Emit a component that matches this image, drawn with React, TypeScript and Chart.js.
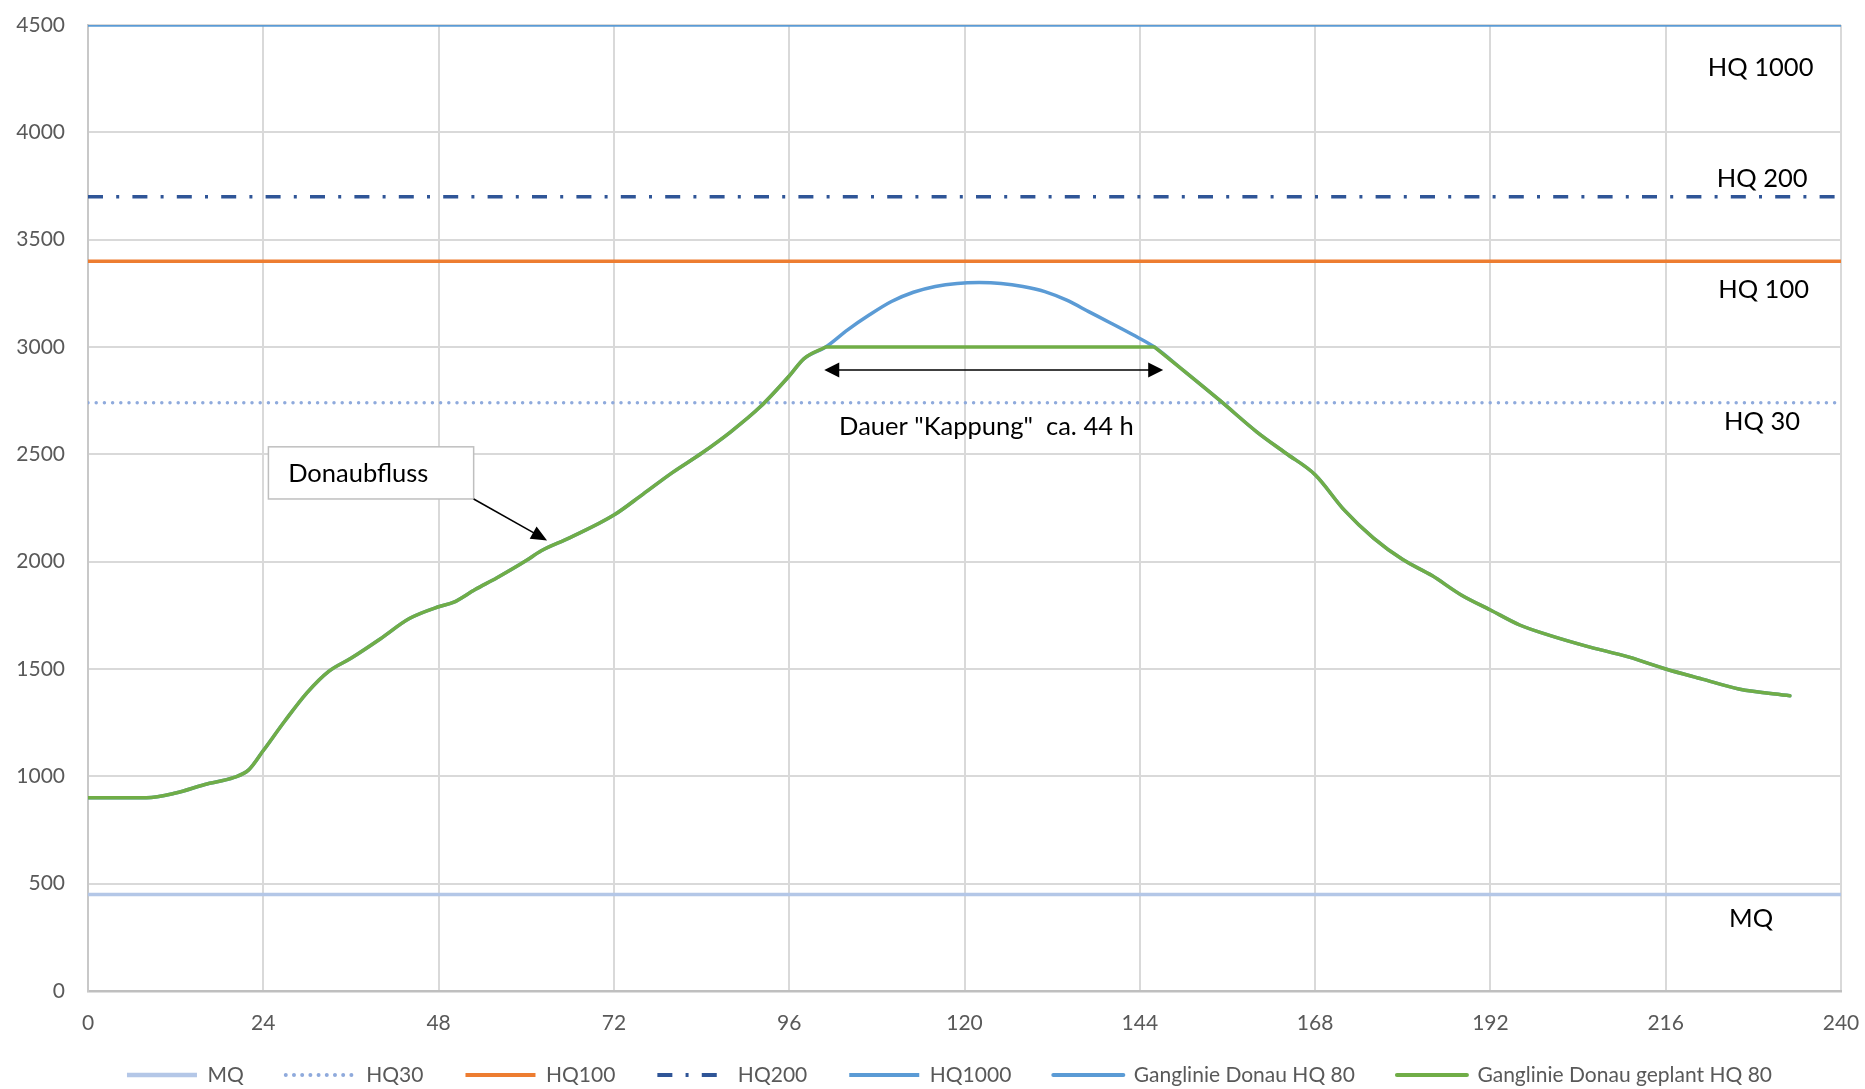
import React, { useEffect, useRef } from "react";
import { Chart, registerables } from "chart.js";

Chart.register(...registerables);

// ---------- data ----------
const X_MIN = 0;
const X_MAX = 240;
const X_STEP = 24;
const Y_MIN = 0;
const Y_MAX = 4500;
const Y_STEP = 500;

const seriesNames = [
  "MQ",
  "HQ30",
  "HQ100",
  "HQ200",
  "HQ1000",
  "Ganglinie Donau HQ 80",
  "Ganglinie Donau geplant HQ 80",
];

// reference discharge levels (m³/s)
const levelValues = [450, 2740, 3400, 3700, 4500];

// hydrograph HQ 80 (hours, discharge)
const hq80Hours = [0, 4, 8, 12, 16, 20, 22, 24, 27, 30, 33, 36, 40, 44, 48, 50, 53, 56, 60, 62, 66, 72, 76, 80, 84, 88, 92, 96, 98, 101, 104, 107, 110, 113, 116, 119, 122, 125, 128, 131, 134, 137, 140, 143, 146, 150, 155, 160, 164, 168, 172, 176, 180, 184, 188, 192, 196, 200, 205, 211, 216, 221, 226, 233];
const hq80Values = [900, 900, 900, 922, 962, 995, 1030, 1120, 1260, 1390, 1490, 1550, 1640, 1735, 1790, 1810, 1870, 1925, 2005, 2050, 2112, 2217, 2315, 2415, 2505, 2605, 2720, 2865, 2945, 3000, 3080, 3150, 3212, 3255, 3282, 3296, 3300, 3296, 3282, 3258, 3218, 3165, 3112, 3058, 3000, 2890, 2750, 2605, 2505, 2405, 2240, 2110, 2010, 1935, 1845, 1775, 1705, 1658, 1608, 1555, 1500, 1453, 1407, 1375];

// planned hydrograph (capped at 3000); null entries only split the smoothing at the cap corners
const geplantHours = [0, 4, 8, 12, 16, 20, 22, 24, 27, 30, 33, 36, 40, 44, 48, 50, 53, 56, 60, 62, 66, 72, 76, 80, 84, 88, 92, 96, 98, 101, 101, 101, 146, 146, 146, 150, 155, 160, 164, 168, 172, 176, 180, 184, 188, 192, 196, 200, 205, 211, 216, 221, 226, 233];
const geplantValues = [900, 900, 900, 922, 962, 995, 1030, 1120, 1260, 1390, 1490, 1550, 1640, 1735, 1790, 1810, 1870, 1925, 2005, 2050, 2112, 2217, 2315, 2415, 2505, 2605, 2720, 2865, 2945, 3000, null, 3000, 3000, null, 3000, 2890, 2750, 2605, 2505, 2405, 2240, 2110, 2010, 1935, 1845, 1775, 1705, 1658, 1608, 1555, 1500, 1453, 1407, 1375];

// annotation texts
const levelLabelTexts = ["MQ", "HQ 30", "HQ 100", "HQ 200", "HQ 1000"];
const kappungText = 'Dauer "Kappung"  ca. 44 h';
const calloutText = "Donaubfluss";

// ---------- layout / style (kept apart from data) ----------
const W = 1865;
const H = 1089;
const TICK_FONT = 21;
const ANN_FONT = 25.5;
const LEGEND_SHIFT = 29;
const levelLabelPos = [
  { h: 227.7, q: 338 },
  { h: 229.2, q: 2650 },
  { h: 229.4, q: 3266 },
  { h: 229.2, q: 3783 },
  { h: 229.0, q: 4301 },
];
const kappungArrow = { h1: 100.8, h2: 147.2, q: 2893, textH: 123, textQ: 2627 };
const callout = { h1: 24.7, h2: 52.8, q1: 2535, q2: 2292, textH: 27.4, textQ: 2410, tipH: 62.85, tipQ: 2099 };

const COLORS = ["#B4C7E7", "#8FAADC", "#ED7D31", "#2F5597", "#5B9BD5", "#5B9BD5", "#70AD47"];

function drawArrowHead(ctx: CanvasRenderingContext2D, fx: number, fy: number, tx: number, ty: number, len: number, half: number) {
  const a = Math.atan2(ty - fy, tx - fx);
  const bx = tx - Math.cos(a) * len;
  const by = ty - Math.sin(a) * len;
  ctx.beginPath();
  ctx.moveTo(tx, ty);
  ctx.lineTo(bx + Math.sin(a) * half, by - Math.cos(a) * half);
  ctx.lineTo(bx - Math.sin(a) * half, by + Math.cos(a) * half);
  ctx.closePath();
  ctx.fill();
}

const annotationPlugin = {
  id: "annotations",
  afterLayout(chart: any) {
    // place the legend row just under the x tick labels
    const lg = chart.legend;
    if (lg) {
      lg.top = chart.chartArea.bottom + 31.5;
      lg.bottom = H;
      lg.height = lg.bottom - lg.top;
      lg.left += LEGEND_SHIFT;
      lg.right += LEGEND_SHIFT;
    }
  },
  afterDraw(chart: any) {
    const { ctx } = chart;
    const xs = chart.scales.x;
    const ys = chart.scales.y;
    const px = (h: number) => xs.getPixelForValue(h);
    const py = (q: number) => ys.getPixelForValue(q);
    ctx.save();
    ctx.fillStyle = "#000";
    ctx.font = `${ANN_FONT}px Lato`;
    ctx.textBaseline = "middle";
    ctx.textAlign = "center";
    levelLabelTexts.forEach((t, i) => {
      ctx.fillText(t, px(levelLabelPos[i].h), py(levelLabelPos[i].q));
    });
    ctx.fillText(kappungText, px(kappungArrow.textH), py(kappungArrow.textQ));

    // double arrow
    const ax1 = px(kappungArrow.h1);
    const ax2 = px(kappungArrow.h2);
    const ay = py(kappungArrow.q);
    ctx.strokeStyle = "#000";
    ctx.lineWidth = 1.5;
    ctx.beginPath();
    ctx.moveTo(ax1 + 10, ay);
    ctx.lineTo(ax2 - 10, ay);
    ctx.stroke();
    drawArrowHead(ctx, ax2, ay, ax1, ay, 15, 7.5);
    drawArrowHead(ctx, ax1, ay, ax2, ay, 15, 7.5);

    // callout box
    const bx1 = px(callout.h1);
    const bx2 = px(callout.h2);
    const by1 = py(callout.q1);
    const by2 = py(callout.q2);
    ctx.fillStyle = "#fff";
    ctx.fillRect(bx1, by1, bx2 - bx1, by2 - by1);
    ctx.strokeStyle = "#BFBFBF";
    ctx.lineWidth = 1.5;
    ctx.strokeRect(bx1, by1, bx2 - bx1, by2 - by1);
    ctx.fillStyle = "#000";
    ctx.textAlign = "left";
    ctx.fillText(calloutText, px(callout.textH), py(callout.textQ));
    const tx = px(callout.tipH);
    const ty = py(callout.tipQ);
    ctx.strokeStyle = "#000";
    ctx.lineWidth = 1.5;
    ctx.beginPath();
    ctx.moveTo(bx2, by2);
    ctx.lineTo(tx - (tx - bx2) * 0.15, ty - (ty - by2) * 0.15);
    ctx.stroke();
    drawArrowHead(ctx, bx2, by2, tx, ty, 16, 7);
    ctx.restore();
  },
};

export default function App() {
  const ref = useRef<HTMLCanvasElement | null>(null);

  useEffect(() => {
    document.body.style.margin = "0";
    const canvas = ref.current;
    if (!canvas) return;

    const levelDs = levelValues.map((v, i) => ({
      label: seriesNames[i],
      data: [
        { x: X_MIN, y: v },
        { x: X_MAX, y: v },
      ],
      borderColor: COLORS[i],
      backgroundColor: COLORS[i],
      borderWidth: 3.5,
      borderDash: i === 1 ? [0, 8.2] : i === 3 ? [15, 13.2, 3, 13.2] : [],
      borderCapStyle: i === 1 ? "round" : "butt",
      pointRadius: 0,
      order: 7 - i,
    }));

    const chart = new Chart(canvas, {
      type: "line",
      data: {
        datasets: [
          ...levelDs,
          {
            label: seriesNames[5],
            data: hq80Hours.map((h, i) => ({ x: h, y: hq80Values[i] })),
            borderColor: COLORS[5],
            backgroundColor: COLORS[5],
            borderWidth: 3.5,
            borderCapStyle: "round",
            pointRadius: 0,
            cubicInterpolationMode: "monotone",
            order: 2,
          },
          {
            label: seriesNames[6],
            data: geplantHours.map((h, i) => ({ x: h, y: geplantValues[i] })),
            borderColor: COLORS[6],
            backgroundColor: COLORS[6],
            borderWidth: 3.5,
            borderCapStyle: "round",
            pointRadius: 0,
            spanGaps: false,
            cubicInterpolationMode: "monotone",
            order: 1,
          },
        ] as any,
      },
      options: {
        animation: false,
        responsive: false,
        devicePixelRatio: 1,
        layout: { padding: { top: 25, right: 24, left: 0, bottom: 0 } },
        plugins: {
          tooltip: { enabled: false },
          legend: {
            position: "bottom",
            maxHeight: 53,
            labels: {
              usePointStyle: true,
              pointStyle: "line",
              pointStyleWidth: 70,
              padding: 42,
              color: "#595959",
              font: { family: "Lato", size: TICK_FONT },
              sort: (a: any, b: any) => a.datasetIndex - b.datasetIndex,
              generateLabels: (c: any) => {
                const items = (Chart.defaults as any).plugins.legend.labels.generateLabels(c);
                items.forEach((it: any) => {
                  const ds = c.data.datasets[it.datasetIndex];
                  it.lineDash = ds.borderDash || [];
                  it.lineCap = ds.borderCapStyle || "butt";
                  it.lineWidth = it.datasetIndex === 0 ? 4.5 : 4;
                  it.strokeStyle = ds.borderColor;
                  it.fillStyle = ds.borderColor;
                  it.pointStyle = "line";
                });
                return items;
              },
            },
          },
        },
        scales: {
          x: {
            type: "linear",
            min: X_MIN,
            max: X_MAX,
            ticks: {
              stepSize: X_STEP,
              color: "#595959",
              font: { family: "Lato", size: TICK_FONT },
              padding: 19.5,
              maxRotation: 0,
              callback: (v: any) => String(v),
            },
            grid: { color: "#D9D9D9", lineWidth: 2, drawTicks: false },
            border: { display: true, color: "#BFBFBF", width: 2.5 },
            afterFit: (s: any) => {
              s.height = 45;
              s.paddingLeft = 0;
              s.paddingRight = 0;
            },
          },
          y: {
            min: Y_MIN,
            max: Y_MAX,
            ticks: {
              stepSize: Y_STEP,
              color: "#595959",
              font: { family: "Lato", size: TICK_FONT },
              padding: 23,
              callback: (v: any) => String(v),
            },
            grid: { color: "#D9D9D9", lineWidth: 2, drawTicks: false },
            border: { display: true, color: "#C8C8C8", width: 2 },
            afterFit: (s: any) => {
              s.width = 88;
              s.paddingTop = 0;
              s.paddingBottom = 0;
            },
          },
        },
      } as any,
      plugins: [annotationPlugin],
    });

    return () => chart.destroy();
  }, []);

  return (
    <div style={{ position: "absolute", left: 0, top: 0, width: W, height: H, background: "#fff" }}>
      <canvas ref={ref} width={W} height={H} style={{ display: "block" }} />
    </div>
  );
}
